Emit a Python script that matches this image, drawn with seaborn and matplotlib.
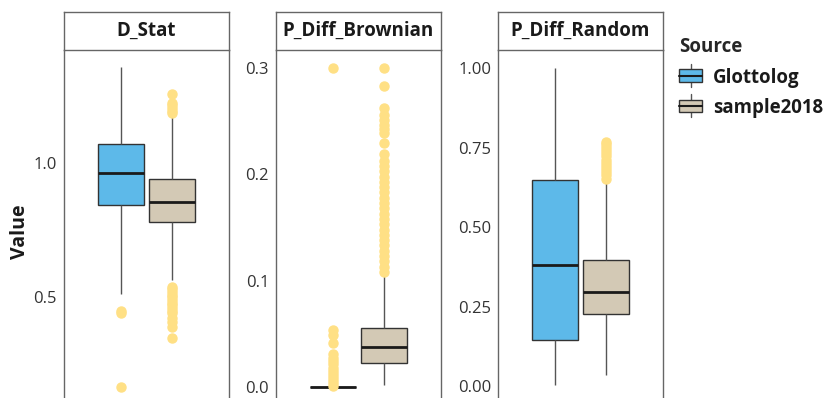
import matplotlib.pyplot as plt
import pandas as pd
import seaborn as sns
from matplotlib.legend_handler import HandlerBase
from matplotlib.lines import Line2D
from matplotlib.patches import Patch, Rectangle

# Data (box stats, one entry per facet)
metrics = ["D_Stat", "P_Diff_Brownian", "P_Diff_Random"]
sources = ["Glottolog", "sample2018"]

glottolog_whislo = [0.509, 0.0, 0.003]
glottolog_q1 = [0.844, 0.0, 0.145]
glottolog_med = [0.965, 0.0, 0.380]
glottolog_q3 = [1.071, 0.0, 0.648]
glottolog_whishi = [1.362, 0.0, 1.000]

sample_whislo = [0.563, 0.0016, 0.035]
sample_q1 = [0.781, 0.022, 0.227]
sample_med = [0.856, 0.0371, 0.2965]
sample_q3 = [0.942, 0.0556, 0.395]
sample_whishi = [1.175, 0.105, 0.640]

glottolog_low_out = [[0.447, 0.440, 0.163], [], []]
glottolog_high_out = [[], [0.001, 0.003, 0.006, 0.009, 0.012, 0.015, 0.018, 0.021,
                            0.024, 0.027, 0.031, 0.041, 0.049, 0.053, 0.300], []]
sample_low_out = [[0.537, 0.527, 0.517, 0.507, 0.497, 0.487, 0.477, 0.467, 0.457,
                   0.447, 0.437, 0.420, 0.405, 0.388, 0.344], [], []]
sample_high_out = [[1.190, 1.198, 1.208, 1.218, 1.228, 1.259],
                   [0.108, 0.113, 0.118, 0.123, 0.128, 0.133, 0.138, 0.143, 0.148,
                    0.153, 0.158, 0.163, 0.168, 0.173, 0.178, 0.183, 0.188, 0.193,
                    0.198, 0.203, 0.208, 0.213, 0.219, 0.230, 0.239, 0.243, 0.247,
                    0.251, 0.256, 0.263, 0.283, 0.300],
                   [0.652, 0.662, 0.672, 0.682, 0.692, 0.702, 0.712, 0.722, 0.732,
                    0.742, 0.752, 0.760, 0.768]]

y_limits = [(0.120, 1.425), (-0.0107, 0.3172), (-0.0377, 1.0566)]
y_ticks = [[0.5, 1.0], [0.0, 0.1, 0.2, 0.3], [0.0, 0.25, 0.5, 0.75, 1.0]]
tick_fmt = ["{:.1f}", "{:.1f}", "{:.2f}"]

palette = {"Glottolog": "#5DB9E9", "sample2018": "#D3C9B5"}
flier_color = "#FFE085"


def expand(low, whislo, q1, med, q3, whishi, high):
    # rebuild a sample whose boxplot gives exactly the read stats
    k = 3 * (len(low) + len(high)) + 10
    return low + [whislo] + [q1] * k + [med] * k + [q3] * k + [whishi] + high


rows = []
for i, m in enumerate(metrics):
    g = expand(glottolog_low_out[i], glottolog_whislo[i], glottolog_q1[i], glottolog_med[i],
               glottolog_q3[i], glottolog_whishi[i], glottolog_high_out[i])
    s = expand(sample_low_out[i], sample_whislo[i], sample_q1[i], sample_med[i],
               sample_q3[i], sample_whishi[i], sample_high_out[i])
    rows += [(m, "Glottolog", v) for v in g]
    rows += [(m, "sample2018", v) for v in s]
df = pd.DataFrame(rows, columns=["Metric", "Source", "Value"])

sns.set_theme(style="white")
plt.rcParams["font.family"] = ["Open Sans", "DejaVu Sans"]

W, H = 825, 398
fig = plt.figure(figsize=(W / 100, H / 100), dpi=100)
lefts = [64, 276, 498]
pw = 165
top_px, strip_px = 50, 38

for i, m in enumerate(metrics):
    ax = fig.add_axes([lefts[i] / W, 0, pw / W, (H - top_px) / H])
    sub = df[df["Metric"] == m]
    sns.boxplot(data=sub, x="Metric", y="Value", hue="Source", hue_order=sources,
                palette=palette, saturation=1, width=0.75, gap=0.1,
                linecolor="#333333", linewidth=1, showcaps=False,
                whiskerprops=dict(color="#555555", linewidth=1),
                medianprops=dict(color="#1a1a1a", linewidth=2),
                flierprops=dict(marker="o", markerfacecolor=flier_color,
                                markeredgecolor=flier_color, markersize=6.5),
                legend=False, ax=ax)
    # outlier dots sit on top of the boxes
    for ln in ax.lines:
        if ln.get_marker() == "o":
            ln.set_zorder(5)
    ax.set_xlim(-0.6, 0.6)
    ax.set_ylim(*y_limits[i])
    ax.set_yticks(y_ticks[i])
    ax.set_yticklabels([tick_fmt[i].format(t) for t in y_ticks[i]])
    ax.set_xticks([])
    ax.set_xlabel("")
    ax.tick_params(axis="y", length=0, pad=5, labelsize=12, labelcolor="#333333")
    for sp in ["top", "bottom"]:
        ax.spines[sp].set_visible(False)
    for sp in ["left", "right"]:
        ax.spines[sp].set_color("#666666")
        ax.spines[sp].set_linewidth(1)
    if i == 0:
        ax.set_ylabel("Value", fontsize=14, fontweight="bold", color="#1a1a1a")
        ax.yaxis.set_label_coords(-0.206, 0.477)
    else:
        ax.set_ylabel("")

    # facet strip
    st = fig.add_axes([lefts[i] / W, (H - top_px) / H, pw / W, strip_px / H])
    st.set_xticks([])
    st.set_yticks([])
    st.set_facecolor("white")
    for sp in st.spines.values():
        sp.set_color("#666666")
        sp.set_linewidth(1)
    st.text(0.5, 0.5, m, ha="center", va="center", fontsize=13.5, fontweight="bold",
            color="#1a1a1a", transform=st.transAxes)


class BoxKey(HandlerBase):
    def create_artists(self, legend, orig, xd, yd, w, h, fs, trans):
        cx = xd + w / 2
        box = Rectangle((xd, yd + h * 0.05), w, h * 0.9, facecolor=orig.get_facecolor(),
                        edgecolor="#333333", lw=1, transform=trans)
        med = Line2D([xd, xd + w], [yd + h / 2] * 2, color="#1a1a1a", lw=1.5, transform=trans)
        lo = Line2D([cx, cx], [yd - h * 0.35, yd + h * 0.05], color="#555555", lw=1, transform=trans)
        hi = Line2D([cx, cx], [yd + h * 0.95, yd + h * 1.35], color="#555555", lw=1, transform=trans)
        return [lo, hi, box, med]


handles = [Patch(facecolor=palette[s], label=s) for s in sources]
leg = fig.legend(handles=handles, labels=sources, title="Source",
                 handler_map={Patch: BoxKey()}, loc="upper left",
                 bbox_to_anchor=(672 / W, 1 - 30 / H), frameon=False,
                 prop=dict(size=13.4, weight="bold"), handlelength=1.2, handleheight=0.75,
                 handletextpad=0.6, labelspacing=0.55, borderaxespad=0)
leg.get_title().set_fontweight("bold")
leg.get_title().set_fontsize(13.5)
leg._legend_box.align = "left"
for t in leg.get_texts():
    t.set_color("#1a1a1a")

fig.savefig("out.png", dpi=100)
